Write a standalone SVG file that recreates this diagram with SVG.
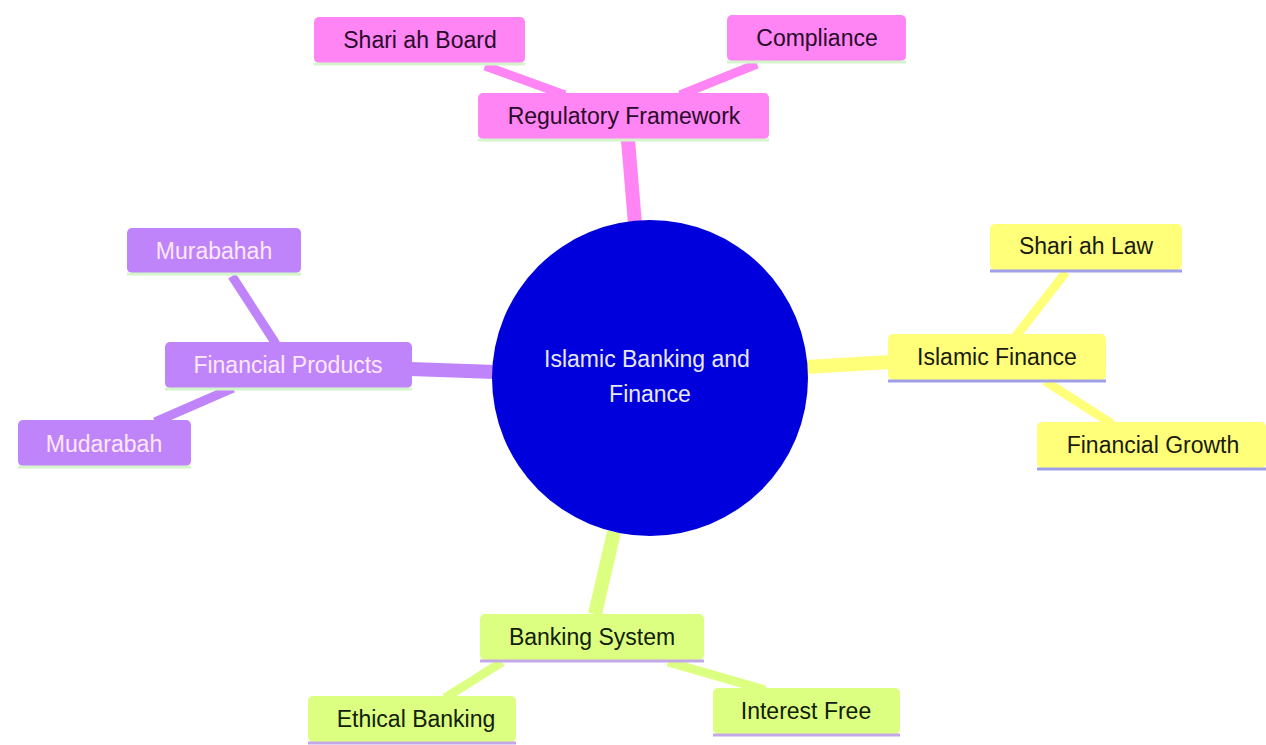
<svg xmlns="http://www.w3.org/2000/svg" width="1266" height="745" viewBox="0 0 1266 745">
<style>
text{font-family:"Liberation Sans",Arial,sans-serif;font-size:23px;text-anchor:middle;dominant-baseline:central}
.pk rect{fill:#ff85f4}.pk text{fill:#2a0a2a}.pk line{stroke:#d4f4cc}
.pu rect{fill:#c084fa}.pu text{fill:#fde8fd}.pu line{stroke:#d4f4cc}
.ye rect{fill:#ffff7a}.ye text{fill:#1a1a10}.ye line{stroke:#a0a0ea}
.li rect{fill:#dcff82}.li text{fill:#10200a}.li line{stroke:#c4a8e8}
.u{stroke-width:3}
#edges line{stroke-linecap:butt}
</style>
<rect width="1266" height="745" fill="#ffffff"/>
<g id="edges">
<line x1="628" y1="140" x2="635" y2="224" stroke="#ff85f4" stroke-width="14"/>
<line x1="410" y1="369" x2="496" y2="372" stroke="#c084fa" stroke-width="14"/>
<line x1="806" y1="367" x2="890" y2="362" stroke="#ffff7a" stroke-width="14"/>
<line x1="595" y1="614" x2="614" y2="532" stroke="#dcff82" stroke-width="14"/>
<line x1="485" y1="66" x2="565" y2="95" stroke="#ff85f4" stroke-width="9"/>
<line x1="757" y1="64" x2="680" y2="95" stroke="#ff85f4" stroke-width="9"/>
<line x1="232" y1="276" x2="276" y2="344" stroke="#c084fa" stroke-width="9"/>
<line x1="155" y1="422" x2="233" y2="388" stroke="#c084fa" stroke-width="9"/>
<line x1="1066" y1="272" x2="1016" y2="336" stroke="#ffff7a" stroke-width="9"/>
<line x1="1112" y1="424" x2="1045" y2="381" stroke="#ffff7a" stroke-width="9"/>
<line x1="445" y1="698" x2="502" y2="662" stroke="#dcff82" stroke-width="9"/>
<line x1="765" y1="690" x2="668" y2="662" stroke="#dcff82" stroke-width="9"/>
</g>
<g id="root">
<circle cx="650" cy="378" r="158" fill="#0000dd"/>
<text x="647" y="359" fill="#e8e8f4">Islamic Banking and</text>
<text x="650" y="394" fill="#e8e8f4">Finance</text>
</g>
<g id="regulatory" class="pk"><rect x="478" y="93" width="291" height="46" rx="5"/><line class="u" x1="478" y1="140" x2="769" y2="140"/><text x="624" y="116">Regulatory Framework</text></g>
<g id="shariah-board" class="pk"><rect x="314" y="17" width="211" height="46" rx="5"/><line class="u" x1="314" y1="64" x2="525" y2="64"/><text x="420" y="40">Shari ah Board</text></g>
<g id="compliance" class="pk"><rect x="727" y="15" width="179" height="46" rx="5"/><line class="u" x1="727" y1="62" x2="906" y2="62"/><text x="817" y="38">Compliance</text></g>
<g id="financial-products" class="pu"><rect x="165" y="342" width="247" height="46" rx="5"/><line class="u" x1="165" y1="389" x2="412" y2="389"/><text x="288" y="365">Financial Products</text></g>
<g id="murabahah" class="pu"><rect x="127" y="228" width="174" height="45" rx="5"/><line class="u" x1="127" y1="274" x2="301" y2="274"/><text x="214" y="251">Murabahah</text></g>
<g id="mudarabah" class="pu"><rect x="18" y="420" width="173" height="46" rx="5"/><line class="u" x1="18" y1="467" x2="191" y2="467"/><text x="104" y="444">Mudarabah</text></g>
<g id="islamic-finance" class="ye"><rect x="888" y="334" width="218" height="46" rx="5"/><line class="u" x1="888" y1="381" x2="1106" y2="381"/><text x="997" y="357">Islamic Finance</text></g>
<g id="shariah-law" class="ye"><rect x="990" y="224" width="192" height="46" rx="5"/><line class="u" x1="990" y1="271" x2="1182" y2="271"/><text x="1086" y="246">Shari ah Law</text></g>
<g id="financial-growth" class="ye"><rect x="1037" y="422" width="229" height="46" rx="5"/><line class="u" x1="1037" y1="469" x2="1266" y2="469"/><text x="1153" y="445">Financial Growth</text></g>
<g id="banking-system" class="li"><rect x="480" y="614" width="224" height="46" rx="5"/><line class="u" x1="480" y1="661" x2="704" y2="661"/><text x="592" y="637">Banking System</text></g>
<g id="ethical-banking" class="li"><rect x="308" y="696" width="208" height="46" rx="5"/><line class="u" x1="308" y1="743" x2="516" y2="743"/><text x="416" y="719">Ethical Banking</text></g>
<g id="interest-free" class="li"><rect x="713" y="688" width="187" height="46" rx="5"/><line class="u" x1="713" y1="735" x2="900" y2="735"/><text x="806" y="711">Interest Free</text></g>
</svg>
